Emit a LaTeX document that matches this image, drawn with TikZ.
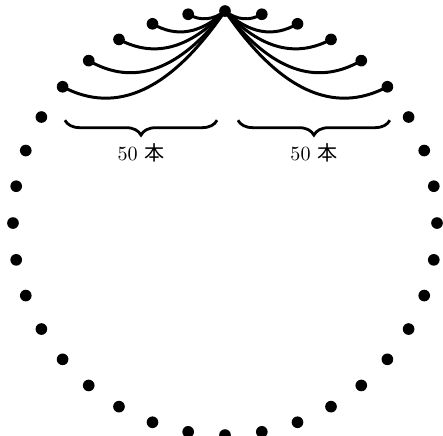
\documentclass[tikz,border=0pt]{standalone}
\usepackage{fontspec}
\newfontfamily\jpfont{Noto Sans CJK JP}
\usetikzlibrary{calc,decorations.pathreplacing}
\tikzset{
  bead/.style={circle, fill, inner sep=0pt, minimum size=2.2mm},
  rope/.style={line width=1.6pt},
  bracket/.style={decorate, decoration={brace, mirror, amplitude=8pt}, line width=1.5pt},
  count/.style={font=\fontsize{10.8}{13}\selectfont, inner sep=1pt},
}
\newcommand{\hon}[1]{#1~{\jpfont 本}}

\begin{document}
\begin{tikzpicture}
  \useasboundingbox (-4.245,-4) rectangle (4.113,4.208);
  % ring of 36 beads
  \foreach \i in {0,...,35}
    \node[bead] (p\i) at ({90+10*\i}:4) {};
  % ropes hanging from the top bead
  \foreach \k/\cy in {1/3.74, 2/3.36, 3/2.93, 4/2.32, 5/1.76} {
    \pgfmathtruncatemacro{\r}{36-\k}
    \coordinate (cl\k) at ({-2*sin(10*\k)},\cy);
    \coordinate (cr\k) at ({2*sin(10*\k)},\cy);
    \draw[rope] (p0.center) .. controls ($(p0.center)!2/3!(cl\k)$) and ($(p\k.center)!2/3!(cl\k)$) .. (p\k.center);
    \draw[rope] (p0.center) .. controls ($(p0.center)!2/3!(cr\k)$) and ($(p\r.center)!2/3!(cr\k)$) .. (p\r.center);
  }
  % braces
  \coordinate (bl1) at (-3.02,1.94);
  \coordinate (bl2) at (-0.15,1.94);
  \coordinate (br1) at (0.245,1.94);
  \coordinate (br2) at (3.11,1.94);
  \draw[bracket] (bl1) -- (bl2);
  \draw[bracket] (br1) -- (br2);
  \node[count] (nl) at ($(bl1)!0.5!(bl2)+(0,-0.62)$) {\hon{50}};
  \node[count] (nr) at ($(br1)!0.5!(br2)+(0,-0.62)$) {\hon{50}};
\end{tikzpicture}
\end{document}
